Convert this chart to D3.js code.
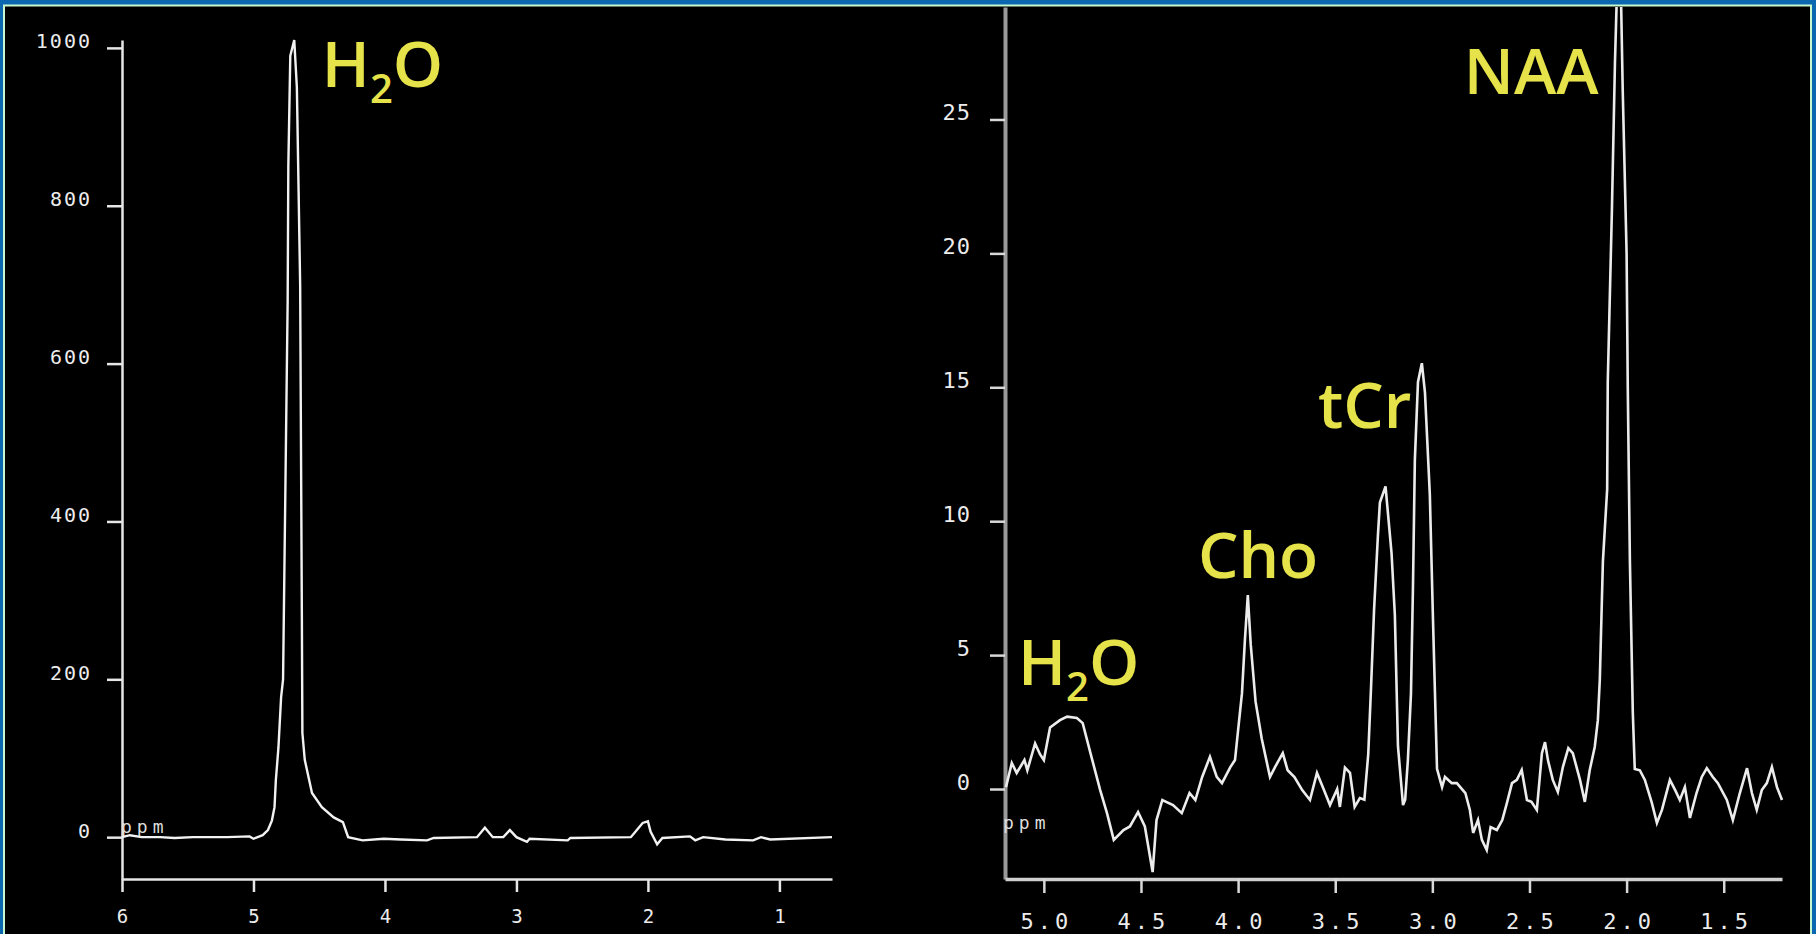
<!DOCTYPE html>
<html>
<head>
<meta charset="utf-8">
<script src="https://cdn.jsdelivr.net/npm/d3@7/dist/d3.min.js"></script>
<style>
  html, body { margin: 0; padding: 0; background: #000; }
  svg { display: block; }
</style>
</head>
<body>
<svg id="chart" width="1816" height="934"></svg>
<script>
// full spectrum, water peak dominates
var leftPpm = [6.0, 5.94, 5.85, 5.71, 5.6, 5.46, 5.2, 5.03, 5.0, 4.93, 4.89, 4.86, 4.84, 4.83, 4.81, 4.79,
  4.775, 4.74, 4.735, 4.72, 4.69, 4.67, 4.645, 4.632, 4.628, 4.61, 4.555, 4.48, 4.39, 4.32, 4.28, 4.17,
  4.01, 3.88, 3.68, 3.63, 3.3, 3.24, 3.18, 3.1, 3.05, 3.0, 2.92, 2.9, 2.61, 2.59, 2.13, 2.1, 2.04, 2.0,
  1.98, 1.93, 1.89, 1.68, 1.64, 1.58, 1.41, 1.2, 1.14, 1.07, 0.6];
var leftSignal = [0, 2.5, 0, 0, -1, 0, 0, 1, -2, 2.5, 9, 21, 38, 72, 114, 177,
  200, 680, 850, 990, 1010, 950, 700, 280, 132, 98, 56, 38, 25, 19, 0, -4,
  -2, -3, -4, -1, 0, 12, 0, 0, 9, 0, -6, -2, -4, -1, 0, 6, 18, 20,
  7, -9, -1, 1, -4, 0, -3, -4, 0, -3, 0];

// zoomed spectrum, metabolites
var rightPpm = [5.195, 5.165, 5.14, 5.1, 5.085, 5.045, 5.02, 5.0, 4.968, 4.917, 4.88, 4.83, 4.8, 4.76,
  4.71, 4.675, 4.64, 4.59, 4.557, 4.515, 4.48, 4.44, 4.42, 4.39, 4.335, 4.29, 4.25, 4.22, 4.185, 4.145,
  4.11, 4.083, 4.04, 4.016, 4.0, 3.98, 3.965, 3.95, 3.935, 3.91, 3.878, 3.836, 3.81, 3.77, 3.745, 3.71,
  3.67, 3.63, 3.594, 3.56, 3.527, 3.49, 3.476, 3.45, 3.424, 3.4, 3.373, 3.35, 3.33, 3.315, 3.3, 3.28,
  3.27, 3.241, 3.21, 3.193, 3.177, 3.151, 3.14, 3.126, 3.11, 3.1, 3.09, 3.074, 3.054, 3.038, 3.013,
  2.997, 2.976, 2.95, 2.935, 2.9, 2.874, 2.83, 2.807, 2.79, 2.765, 2.745, 2.72, 2.7, 2.668, 2.64, 2.616,
  2.59, 2.565, 2.54, 2.513, 2.49, 2.462, 2.436, 2.42, 2.405, 2.38, 2.354, 2.328, 2.3, 2.277, 2.24, 2.215,
  2.19, 2.164, 2.148, 2.138, 2.122, 2.1, 2.097, 2.076, 2.06, 2.045, 2.035, 2.02, 2.0, 1.994, 1.983,
  1.968, 1.958, 1.932, 1.906, 1.87, 1.844, 1.818, 1.777, 1.75, 1.726, 1.7, 1.674, 1.64, 1.613, 1.587,
  1.556, 1.53, 1.484, 1.453, 1.417, 1.38, 1.355, 1.33, 1.304, 1.278, 1.252, 1.226, 1.2];
var rightSignal = [0.07, 0.97, 0.6, 1.08, 0.7, 1.7, 1.3, 1.08, 2.3, 2.57, 2.7, 2.65, 2.46, 1.34,
  -0.04, -0.9, -1.9, -1.53, -1.4, -0.86, -1.4, -3.1, -1.16, -0.41, -0.6, -0.9, -0.15, -0.41, 0.45, 1.2,
  0.45, 0.22, 0.82, 1.08, 2.2, 3.58, 5.56, 7.24, 5.4, 3.26, 1.87, 0.45, 0.82, 1.34, 0.7, 0.45,
  -0.04, -0.41, 0.6, 0, -0.6, 0, -0.67, 0.8, 0.6, -0.67, -0.34, -0.4, 1.3, 3.9, 6.7, 9.5,
  10.7, 11.3, 8.8, 6.5, 1.6, -0.6, -0.4, 1.08, 3.58, 7.46, 12.3, 15.2, 15.9, 14.8, 11.0,
  6.4, 0.75, 0.07, 0.45, 0.22, 0.22, -0.15, -0.78, -1.64, -1.16, -1.9, -2.28, -1.42, -1.53, -1.16, -0.52,
  0.22, 0.34, 0.71, -0.41, -0.48, -0.78, 1.34, 1.75, 1.08, 0.34, -0.11, 0.82, 1.53, 1.34, 0.34, -0.48,
  0.7, 1.57, 2.57, 4.07, 8.5, 11.2, 15.2, 21.5, 27.1, 31, 32, 26.1, 20.0, 15.0, 8.5,
  2.84, 0.75, 0.7, 0.34, -0.52, -1.27, -0.78, 0.34, -0.04, -0.41, 0.07, -1.08, -0.15, 0.45, 0.78,
  0.45, 0.22, -0.41, -1.16, -0.15, 0.78, -0.15, -0.78, -0.04, 0.22, 0.82, 0.07, -0.41];

var leftYTicks = [0, 200, 400, 600, 800, 1000];
var leftXTicks = [6, 5, 4, 3, 2, 1];
var rightYTicks = [0, 5, 10, 15, 20, 25];
var rightXTicks = [5.0, 4.5, 4.0, 3.5, 3.0, 2.5, 2.0, 1.5];

// peak labels, anchored in data units (ppm, signal)
var leftLabelPpm = [4.48];
var leftLabelSignal = [950];
var rightLabelNames = ["H2O", "Cho", "tCr", "NAA"];
var rightLabelPpm = [5.133, 4.207, 3.589, 2.838];
var rightLabelSignal = [3.88, 7.87, 13.47, 25.97];

var svg = d3.select("#chart");
var W = 1816, H = 934;

// frame
svg.append("rect").attr("width", W).attr("height", H).attr("fill", "#0a67b0");
svg.append("rect").attr("x", 3).attr("y", 4.5).attr("width", W - 3 - 4).attr("height", H).attr("fill", "#c9f7cf");
svg.append("rect").attr("x", 5).attr("y", 6.5).attr("width", W - 5 - 6).attr("height", H).attr("fill", "#000");

var yellow = "#e6e24a";
var monoFont = "'DejaVu Sans Mono', 'Liberation Mono', monospace";

function h2o(g, x, y) {
  var t = g.append("text")
    .attr("x", x).attr("y", y)
    .attr("fill", yellow)
    .style("font-family", "'Open Sans', sans-serif")
    .style("font-weight", 600)
    .style("font-size", "64px");
  t.append("tspan").text("H");
  t.append("tspan").attr("dy", 16).style("font-size", "40px").text("2");
  t.append("tspan").attr("dy", -16).text("O");
  return t;
}

// ---------- left panel ----------
var xL = d3.scaleLinear().domain([6, 0.6]).range([122, 832]);
var yL = d3.scaleLinear().domain([-53, 1010]).range([879, 40]);

var gL = svg.append("g");

var axL = gL.append("g").attr("transform", "translate(122,0)")
  .call(d3.axisLeft(yL).tickValues(leftYTicks).tickSize(15).tickSizeOuter(0).tickPadding(16)
    .tickFormat(d3.format("d")));
axL.selectAll("text").attr("dy", "0").attr("dx", "1")
  .style("font-family", monoFont).style("font-size", "20px").style("letter-spacing", "2px");

var axLb = gL.append("g").attr("transform", "translate(0,879)")
  .call(d3.axisBottom(xL).tickValues(leftXTicks).tickSize(13).tickSizeOuter(0).tickPadding(18)
    .tickFormat(d3.format("d")));
axLb.selectAll("text").style("font-family", monoFont).style("font-size", "19px");

[axL, axLb].forEach(function(a) {
  a.select(".domain").attr("stroke", "#e6e6e6").attr("stroke-width", 2.5);
  a.selectAll(".tick line").attr("stroke", "#e6e6e6").attr("stroke-width", 2.5);
  a.selectAll("text").attr("fill", "#ececec");
});

gL.append("text").attr("x", 121).attr("y", 833).attr("fill", "#dcdcdc")
  .style("font-family", monoFont).style("font-size", "18px").style("letter-spacing", "5px")
  .text("ppm");

var leftPts = d3.zip(leftPpm, leftSignal);
gL.append("path").datum(leftPts)
  .attr("fill", "none").attr("stroke", "#f2f2f2").attr("stroke-width", 2.4)
  .attr("d", d3.line().x(function(d) { return xL(d[0]); }).y(function(d) { return yL(d[1]); }));

leftLabelPpm.forEach(function(p, i) {
  h2o(gL, xL(p), yL(leftLabelSignal[i]));
});

// ---------- right panel ----------
var xR = d3.scaleLinear().domain([5.2, 1.2]).range([1005, 1782]);
var yR = d3.scaleLinear().domain([-3.36, 29.2]).range([879, 7]);

var gR = svg.append("g");

svg.append("clipPath").attr("id", "clipR")
  .append("rect").attr("x", 1000).attr("y", 7).attr("width", 800).attr("height", 880);

var axR = gR.append("g").attr("transform", "translate(1005,0)")
  .call(d3.axisLeft(yR).tickValues(rightYTicks).tickSize(15).tickSizeOuter(0).tickPadding(20)
    .tickFormat(d3.format("d")));
axR.selectAll("text").attr("dy", "0").attr("dx", "1")
  .style("font-family", monoFont).style("font-size", "22px").style("letter-spacing", "1px");
axR.select(".domain").attr("stroke", "#9a9a9a").attr("stroke-width", 4);

var axRb = gR.append("g").attr("transform", "translate(0,879)")
  .call(d3.axisBottom(xR).tickValues(rightXTicks).tickSize(14).tickSizeOuter(0).tickPadding(20)
    .tickFormat(d3.format(".1f")));
axRb.selectAll("text").attr("dx", "2")
  .style("font-family", monoFont).style("font-size", "22px").style("letter-spacing", "4px");
axRb.select(".domain").attr("stroke", "#cfcfcf").attr("stroke-width", 3.5);

[axR, axRb].forEach(function(a) {
  a.selectAll(".tick line").attr("stroke", "#d8d8d8").attr("stroke-width", 2.5);
  a.selectAll("text").attr("fill", "#ececec");
});

gR.append("text").attr("x", 1003).attr("y", 829).attr("fill", "#dcdcdc")
  .style("font-family", monoFont).style("font-size", "18px").style("letter-spacing", "5px")
  .text("ppm");

var rightPts = d3.zip(rightPpm, rightSignal);
gR.append("path").datum(rightPts)
  .attr("clip-path", "url(#clipR)")
  .attr("fill", "none").attr("stroke", "#ececec").attr("stroke-width", 2.6)
  .attr("d", d3.line().x(function(d) { return xR(d[0]); }).y(function(d) { return yR(d[1]); }));

rightLabelNames.forEach(function(name, i) {
  var x = xR(rightLabelPpm[i]), y = yR(rightLabelSignal[i]);
  if (name === "H2O") {
    h2o(gR, x, y);
  } else {
    gR.append("text").attr("x", x).attr("y", y).attr("fill", yellow)
      .style("font-family", "'Open Sans', sans-serif").style("font-weight", 600)
      .style("font-size", "64px").text(name);
  }
});
</script>
</body>
</html>
